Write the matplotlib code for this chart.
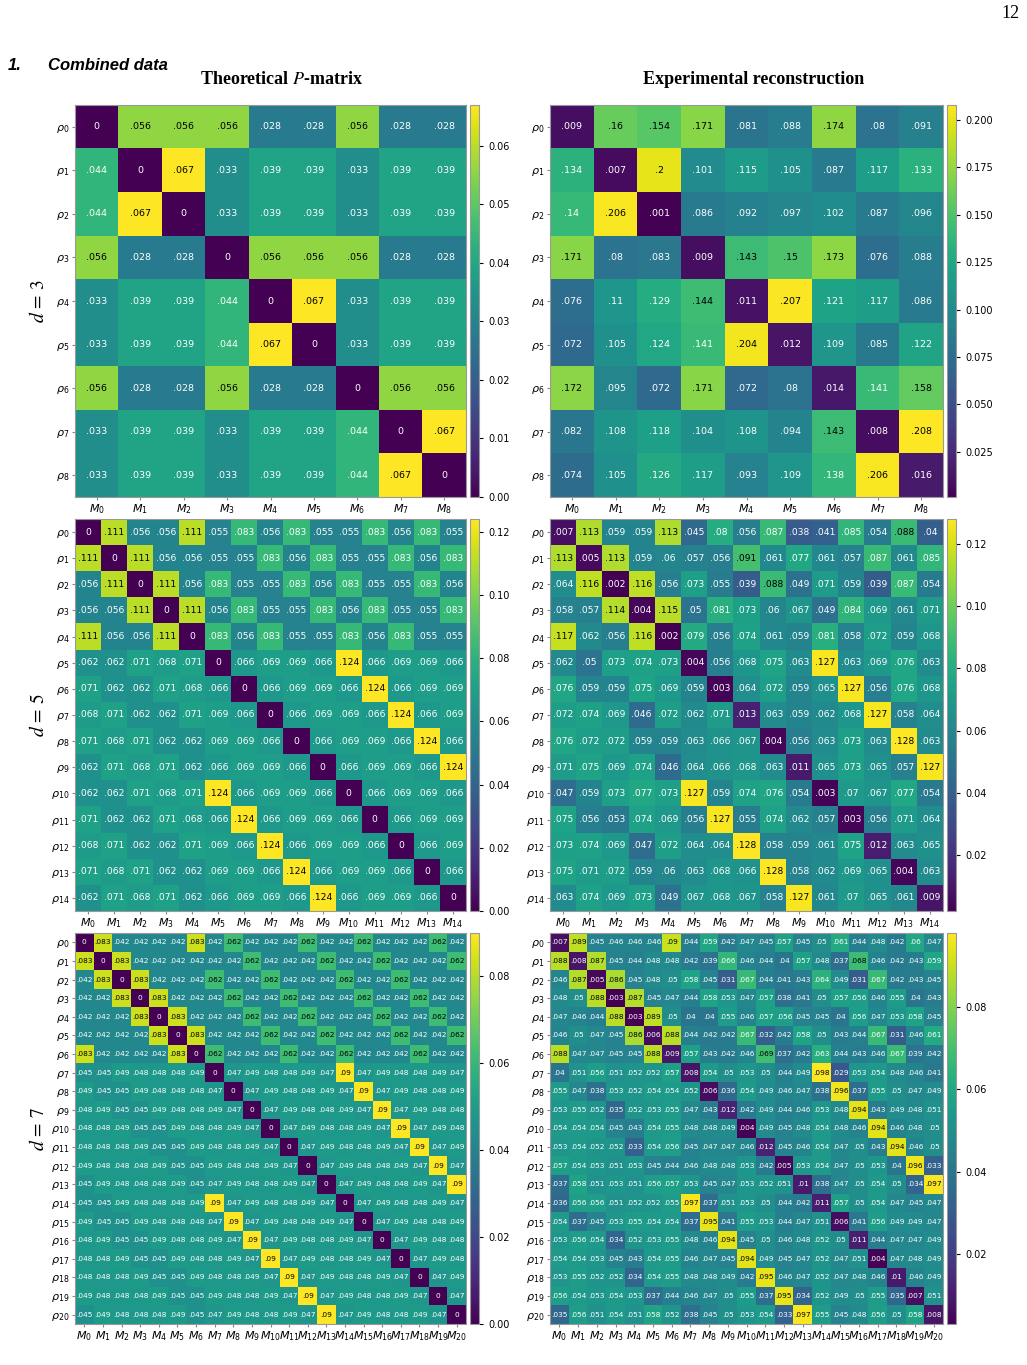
import matplotlib
matplotlib.use('Agg')
import matplotlib.pyplot as plt
import numpy as np

# ---- data: d = 3 ----
theory_d3 = np.array([
    [0, .056, .056, .056, .028, .028, .056, .028, .028],
    [.044, 0, .067, .033, .039, .039, .033, .039, .039],
    [.044, .067, 0, .033, .039, .039, .033, .039, .039],
    [.056, .028, .028, 0, .056, .056, .056, .028, .028],
    [.033, .039, .039, .044, 0, .067, .033, .039, .039],
    [.033, .039, .039, .044, .067, 0, .033, .039, .039],
    [.056, .028, .028, .056, .028, .028, 0, .056, .056],
    [.033, .039, .039, .033, .039, .039, .044, 0, .067],
    [.033, .039, .039, .033, .039, .039, .044, .067, 0],
])
exp_d3 = np.array([
    [.009, .16, .154, .171, .081, .088, .174, .08, .091],
    [.134, .007, .2, .101, .115, .105, .087, .117, .133],
    [.14, .206, .001, .086, .092, .097, .102, .087, .096],
    [.171, .08, .083, .009, .143, .15, .173, .076, .088],
    [.076, .11, .129, .144, .011, .207, .121, .117, .086],
    [.072, .105, .124, .141, .204, .012, .109, .085, .122],
    [.172, .095, .072, .171, .072, .08, .014, .141, .158],
    [.082, .108, .118, .104, .108, .094, .143, .008, .208],
    [.074, .105, .126, .117, .093, .109, .138, .206, .016],
])

# ---- data: d = 5 ----
theory_d5 = np.array([
    [0, .111, .056, .056, .111, .055, .083, .056, .083, .055, .055, .083, .056, .083, .055],
    [.111, 0, .111, .056, .056, .055, .055, .083, .056, .083, .055, .055, .083, .056, .083],
    [.056, .111, 0, .111, .056, .083, .055, .055, .083, .056, .083, .055, .055, .083, .056],
    [.056, .056, .111, 0, .111, .056, .083, .055, .055, .083, .056, .083, .055, .055, .083],
    [.111, .056, .056, .111, 0, .083, .056, .083, .055, .055, .083, .056, .083, .055, .055],
    [.062, .062, .071, .068, .071, 0, .066, .069, .069, .066, .124, .066, .069, .069, .066],
    [.071, .062, .062, .071, .068, .066, 0, .066, .069, .069, .066, .124, .066, .069, .069],
    [.068, .071, .062, .062, .071, .069, .066, 0, .066, .069, .069, .066, .124, .066, .069],
    [.071, .068, .071, .062, .062, .069, .069, .066, 0, .066, .069, .069, .066, .124, .066],
    [.062, .071, .068, .071, .062, .066, .069, .069, .066, 0, .066, .069, .069, .066, .124],
    [.062, .062, .071, .068, .071, .124, .066, .069, .069, .066, 0, .066, .069, .069, .066],
    [.071, .062, .062, .071, .068, .066, .124, .066, .069, .069, .066, 0, .066, .069, .069],
    [.068, .071, .062, .062, .071, .069, .066, .124, .066, .069, .069, .066, 0, .066, .069],
    [.071, .068, .071, .062, .062, .069, .069, .066, .124, .066, .069, .069, .066, 0, .066],
    [.062, .071, .068, .071, .062, .066, .069, .069, .066, .124, .066, .069, .069, .066, 0],
])
exp_d5 = np.array([
    [.007, .113, .059, .059, .113, .045, .08, .056, .087, .038, .041, .085, .054, .088, .04],
    [.113, .005, .113, .059, .06, .057, .056, .091, .061, .077, .061, .057, .087, .061, .085],
    [.064, .116, .002, .116, .056, .073, .055, .039, .088, .049, .071, .059, .039, .087, .054],
    [.058, .057, .114, .004, .115, .05, .081, .073, .06, .067, .049, .084, .069, .061, .071],
    [.117, .062, .056, .116, .002, .079, .056, .074, .061, .059, .081, .058, .072, .059, .068],
    [.062, .05, .073, .074, .073, .004, .056, .068, .075, .063, .127, .063, .069, .076, .063],
    [.076, .059, .059, .075, .069, .059, .003, .064, .072, .059, .065, .127, .056, .076, .068],
    [.072, .074, .069, .046, .072, .062, .071, .013, .063, .059, .062, .068, .127, .058, .064],
    [.076, .072, .072, .059, .059, .063, .066, .067, .004, .056, .063, .073, .063, .128, .063],
    [.071, .075, .069, .074, .046, .064, .066, .068, .063, .011, .065, .073, .065, .057, .127],
    [.047, .059, .073, .077, .073, .127, .059, .074, .076, .054, .003, .07, .067, .077, .054],
    [.075, .056, .053, .074, .069, .056, .127, .055, .074, .062, .057, .003, .056, .071, .064],
    [.073, .074, .069, .047, .072, .064, .064, .128, .058, .059, .061, .075, .012, .063, .065],
    [.075, .071, .072, .059, .06, .063, .068, .066, .128, .058, .062, .069, .065, .004, .063],
    [.063, .074, .069, .073, .049, .067, .068, .067, .058, .127, .061, .07, .065, .061, .009],
])

# ---- data: d = 7 ----
theory_d7 = np.array([
    [0, .083, .042, .042, .042, .042, .083, .042, .062, .042, .042, .042, .062, .042, .042, .062, .042, .042, .042, .062, .042],
    [.083, 0, .083, .042, .042, .042, .042, .042, .042, .062, .042, .042, .042, .062, .042, .042, .062, .042, .042, .042, .062],
    [.042, .083, 0, .083, .042, .042, .042, .062, .042, .042, .062, .042, .042, .042, .062, .042, .042, .062, .042, .042, .042],
    [.042, .042, .083, 0, .083, .042, .042, .042, .062, .042, .042, .062, .042, .042, .042, .062, .042, .042, .062, .042, .042],
    [.042, .042, .042, .083, 0, .083, .042, .042, .042, .062, .042, .042, .062, .042, .042, .042, .062, .042, .042, .062, .042],
    [.042, .042, .042, .042, .083, 0, .083, .042, .042, .042, .062, .042, .042, .062, .042, .042, .042, .062, .042, .042, .062],
    [.083, .042, .042, .042, .042, .083, 0, .062, .042, .042, .042, .062, .042, .042, .062, .042, .042, .042, .062, .042, .042],
    [.045, .045, .049, .048, .048, .048, .049, 0, .047, .049, .048, .048, .049, .047, .09, .047, .049, .048, .048, .049, .047],
    [.049, .045, .045, .049, .048, .048, .048, .047, 0, .047, .049, .048, .048, .049, .047, .09, .047, .049, .048, .048, .049],
    [.048, .049, .045, .045, .049, .048, .048, .049, .047, 0, .047, .049, .048, .048, .049, .047, .09, .047, .049, .048, .048],
    [.048, .048, .049, .045, .045, .049, .048, .048, .049, .047, 0, .047, .049, .048, .048, .049, .047, .09, .047, .049, .048],
    [.048, .048, .048, .049, .045, .045, .049, .048, .048, .049, .047, 0, .047, .049, .048, .048, .049, .047, .09, .047, .049],
    [.049, .048, .048, .048, .049, .045, .045, .049, .048, .048, .049, .047, 0, .047, .049, .048, .048, .049, .047, .09, .047],
    [.045, .049, .048, .048, .048, .049, .045, .047, .049, .048, .048, .049, .047, 0, .047, .049, .048, .048, .049, .047, .09],
    [.045, .045, .049, .048, .048, .048, .049, .09, .047, .049, .048, .048, .049, .047, 0, .047, .049, .048, .048, .049, .047],
    [.049, .045, .045, .049, .048, .048, .048, .047, .09, .047, .049, .048, .048, .049, .047, 0, .047, .049, .048, .048, .049],
    [.048, .049, .045, .045, .049, .048, .048, .049, .047, .09, .047, .049, .048, .048, .049, .047, 0, .047, .049, .048, .048],
    [.048, .048, .049, .045, .045, .049, .048, .048, .049, .047, .09, .047, .049, .048, .048, .049, .047, 0, .047, .049, .048],
    [.048, .048, .048, .049, .045, .045, .049, .048, .048, .049, .047, .09, .047, .049, .048, .048, .049, .047, 0, .047, .049],
    [.049, .048, .048, .048, .049, .045, .045, .049, .048, .048, .049, .047, .09, .047, .049, .048, .048, .049, .047, 0, .047],
    [.045, .049, .048, .048, .048, .049, .045, .047, .049, .048, .048, .049, .047, .09, .047, .049, .048, .048, .049, .047, 0],
])
exp_d7 = np.array([
    [.007, .089, .045, .046, .046, .046, .09, .044, .059, .042, .047, .045, .057, .045, .05, .061, .044, .048, .042, .06, .047],
    [.088, .008, .087, .045, .044, .048, .048, .042, .039, .066, .046, .044, .04, .057, .048, .037, .068, .046, .042, .043, .059],
    [.046, .087, .005, .086, .045, .048, .05, .058, .045, .031, .067, .044, .041, .043, .064, .049, .031, .067, .042, .043, .045],
    [.048, .05, .088, .003, .087, .045, .047, .044, .058, .053, .047, .057, .038, .041, .05, .057, .056, .046, .055, .04, .043],
    [.047, .046, .044, .088, .003, .089, .05, .04, .04, .055, .046, .057, .056, .045, .045, .04, .056, .047, .053, .058, .045],
    [.046, .05, .047, .045, .086, .006, .088, .044, .042, .042, .067, .032, .042, .058, .05, .043, .044, .067, .031, .046, .061],
    [.088, .047, .047, .045, .045, .088, .009, .057, .043, .042, .046, .069, .037, .042, .063, .044, .043, .046, .067, .039, .042],
    [.04, .051, .056, .051, .052, .052, .057, .008, .054, .05, .053, .05, .044, .049, .098, .029, .053, .054, .048, .046, .041],
    [.055, .047, .038, .053, .052, .054, .054, .052, .006, .036, .054, .049, .046, .047, .038, .096, .037, .055, .05, .047, .049],
    [.053, .055, .052, .035, .052, .053, .055, .047, .043, .012, .042, .049, .044, .046, .053, .048, .094, .043, .049, .048, .051],
    [.054, .054, .054, .045, .043, .054, .055, .048, .048, .049, .004, .049, .045, .048, .054, .048, .046, .094, .046, .048, .05],
    [.053, .054, .052, .052, .033, .054, .056, .045, .047, .047, .046, .012, .045, .046, .054, .047, .05, .043, .094, .046, .05],
    [.057, .054, .053, .051, .053, .045, .044, .046, .048, .048, .053, .042, .005, .053, .054, .047, .05, .053, .04, .096, .033],
    [.037, .058, .051, .053, .051, .056, .057, .053, .045, .047, .053, .052, .051, .01, .038, .047, .05, .054, .05, .034, .097],
    [.036, .056, .056, .051, .052, .052, .055, .097, .037, .051, .053, .05, .044, .042, .011, .057, .05, .054, .047, .045, .047],
    [.054, .037, .045, .053, .055, .054, .054, .037, .095, .041, .055, .053, .044, .047, .051, .006, .041, .056, .049, .049, .047],
    [.053, .056, .054, .034, .052, .053, .055, .048, .046, .094, .045, .05, .046, .048, .052, .05, .011, .044, .047, .047, .049],
    [.054, .054, .053, .045, .043, .054, .055, .046, .047, .045, .094, .049, .045, .047, .052, .047, .051, .004, .047, .048, .049],
    [.053, .055, .052, .052, .034, .054, .055, .048, .048, .049, .042, .095, .046, .047, .052, .047, .048, .046, .01, .046, .049],
    [.056, .054, .053, .054, .053, .037, .044, .046, .047, .05, .055, .037, .095, .034, .052, .049, .05, .055, .035, .007, .051],
    [.035, .056, .051, .054, .051, .058, .052, .038, .045, .05, .053, .054, .033, .097, .055, .045, .048, .056, .05, .058, .008],
])

# colorbar ticks as printed on each scale
theory_ticks = [[0, .01, .02, .03, .04, .05, .06],
                [0, .02, .04, .06, .08, .10, .12],
                [0, .02, .04, .06, .08]]
exp_ticks = [[.025, .05, .075, .1, .125, .15, .175, .2],
             [.02, .04, .06, .08, .10, .12],
             [.02, .04, .06, .08]]

W, H = 1027, 1365
ROWS_Y = [(105, 497), (519, 911), (933, 1324)]
LEFT_X, LEFT_CB = (75, 466), (470, 479)
RIGHT_X, RIGHT_CB = (550, 943), (947, 956)
ANNOT_SIZE = [6.8, 6.6, 5.3]


def box(x0, x1, y0, y1):
    return [x0 / W, 1 - y1 / H, (x1 - x0) / W, (y1 - y0) / H]


def fmt(v):
    if v == 0:
        return '0'
    s = f'{v:.3f}'.rstrip('0').rstrip('.')
    return s[1:] if s.startswith('0') else s


def heatmap(fig, mat, xr, cbr, yr, fs, ticks):
    ax = fig.add_axes(box(xr[0], xr[1], yr[0], yr[1]))
    cax = fig.add_axes(box(cbr[0], cbr[1], yr[0], yr[1]))
    vmin, vmax = mat.min(), mat.max()
    im = ax.imshow(mat, cmap='viridis', aspect='auto', interpolation='nearest')
    n = mat.shape[0]
    for i in range(n):
        for j in range(n):
            v = mat[i, j]
            dark = (v - vmin) / (vmax - vmin) > 0.68
            ax.text(j, i, fmt(v), ha='center', va='center', fontsize=fs,
                    color='black' if dark else 'white')
    ax.set_xticks(range(n))
    ax.set_yticks(range(n))
    ax.set_xticklabels([f'$M_{{{k}}}$' for k in range(n)], fontsize=8)
    ax.set_yticklabels([f'$\\rho_{{{k}}}$' for k in range(n)], fontsize=8)
    ax.tick_params(length=2, pad=2, color='#888888')
    for sp in ax.spines.values():
        sp.set_color('#999999')
        sp.set_linewidth(0.8)
    cb = fig.colorbar(im, cax=cax, ticks=ticks)
    cb.ax.tick_params(labelsize=7, length=3)
    cb.outline.set_edgecolor('#999999')
    cb.outline.set_linewidth(0.8)
    return ax


fig = plt.figure(figsize=(W / 100, H / 100), dpi=100)

pairs = [(theory_d3, exp_d3), (theory_d5, exp_d5), (theory_d7, exp_d7)]
for k, (yr, (th, ex), fs, d) in enumerate(zip(ROWS_Y, pairs, ANNOT_SIZE, [3, 5, 7])):
    heatmap(fig, th, LEFT_X, LEFT_CB, yr, fs, theory_ticks[k])
    heatmap(fig, ex, RIGHT_X, RIGHT_CB, yr, fs, exp_ticks[k])
    fig.text(38 / W, 1 - (yr[0] + yr[1]) / 2 / H, f'$d\\,=\\,{d}$', rotation=90,
             ha='center', va='center', fontsize=14, math_fontfamily='stix')

fig.text(282 / W, 1 - 79 / H, 'Theoretical $\\mathit{P}$-matrix', ha='center', va='center',
         fontsize=13, fontweight='bold', family='Liberation Serif', math_fontfamily='stix')
fig.text(754 / W, 1 - 79 / H, 'Experimental reconstruction', ha='center', va='center',
         fontsize=13, fontweight='bold', family='Liberation Serif')
fig.text(8 / W, 1 - 66 / H, '1.', ha='left', va='center', fontsize=12,
         fontweight='bold', fontstyle='italic', family='Liberation Sans')
fig.text(48 / W, 1 - 66 / H, 'Combined data', ha='left', va='center', fontsize=12,
         fontweight='bold', fontstyle='italic', family='Liberation Sans')
fig.text(1020 / W, 1 - 13 / H, '12', ha='right', va='center', fontsize=13,
         family='Liberation Serif')

fig.savefig('out.png', dpi=100)
plt.close(fig)
